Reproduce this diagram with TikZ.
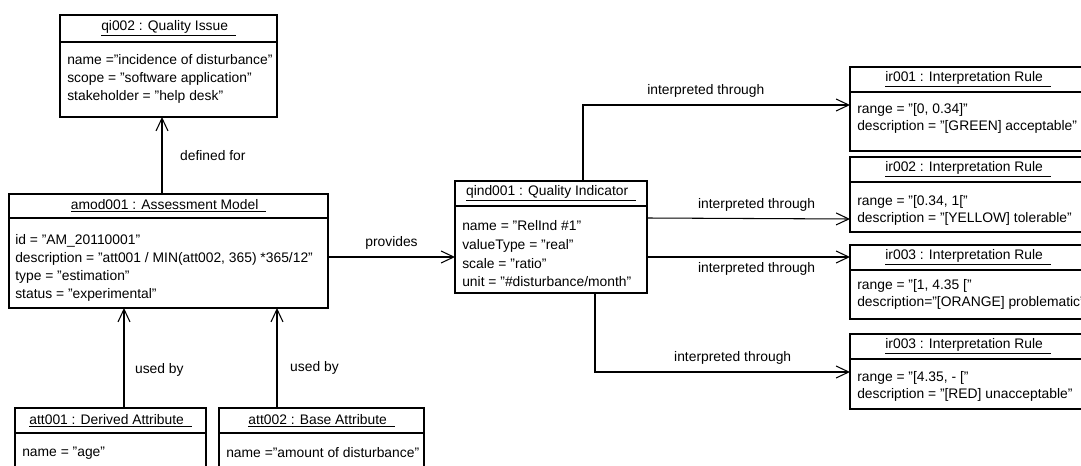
\documentclass[tikz,border=0pt]{standalone}
\usepackage{fontspec}
\setmainfont{Liberation Sans}
\usepackage{tikz}
\usetikzlibrary{
    arrows.meta,
    positioning,
    calc,
    fit
}
\newcommand{\objfont}{\fontsize{9.85}{12.75}\selectfont}
\newcommand{\rulefont}{\fontsize{9.85}{11.9}\selectfont}
\tikzstyle{objbox} = [
    rectangle,
    draw=black,
    line width=0.75pt,
    inner sep=0pt,
    outer sep=0pt
]
\tikzstyle{objname} = [
    inner sep=0pt,
    font=\objfont
]
\tikzstyle{attrs} = [
    anchor=north west,
    align=left,
    inner sep=0pt,
    font=\objfont
]
\tikzstyle{assoc} = [
    -{Straight Barb[length=9pt, width=8.5pt]},
    line width=0.75pt,
    draw=black
]
\tikzstyle{lbl} = [
    inner sep=0pt,
    font=\objfont
]

\begin{document}
\begin{tikzpicture}[x=0.025cm, y=-0.025cm]
        \clip (0,0) rectangle (1081,466);

        \node[objbox, fit={(60,15) (277,117)}] (qi) {};
        \node[objbox, fit={(60,15) (277,42)}] (qi-head) {};
        \node[objname] (qi-name) at (qi-head.center) {\underline{qi002 : Quality Issue\ \ }};
        \node[attrs] (qi-attr) at ($(qi-head.south west)+(7,12)$) {name ="incidence of disturbance"\\ scope = "software application"\\ stakeholder = "help desk"};

        \node[objbox, fit={(9,194) (328,308)}] (amod) {};
        \node[objbox, fit={(9,194) (328,218)}] (amod-head) {};
        \node[objname] (amod-name) at (amod-head.center) {\underline{amod001 : Assessment Model\ \ }};
        \node[attrs] (amod-attr) at ($(amod-head.south west)+(6,16)$) {id = "AM\_20110001"\\ description = "att001 / MIN(att002, 365) *365/12"\\ type = "estimation"\\ status = "experimental"};

        \node[objbox, fit={(15,408) (206,480)}] (att001) {};
        \node[objbox, fit={(15,408) (206,433)}] (att001-head) {};
        \node[objname] (att001-name) at (att001-head.center) {\underline{att001 : Derived Attribute\ \ }};
        \node[attrs] (att001-attr) at ($(att001-head.south west)+(7,14)$) {name = "age"};

        \node[objbox, fit={(219,408) (424,480)}] (att002) {};
        \node[objbox, fit={(219,408) (424,433)}] (att002-head) {};
        \node[objname] (att002-name) at (att002-head.center) {\underline{att002 : Base Attribute\ \ }};
        \node[attrs] (att002-attr) at ($(att002-head.south west)+(7,14)$) {name ="amount of disturbance"};

        \node[objbox, fit={(455,181) (647,293)}] (qind) {};
        \node[objbox, fit={(455,181) (647,206)}] (qind-head) {};
        \node[objname] (qind-name) at (qind-head.center) {\underline{qind001 : Quality Indicator\ \ }};
        \node[attrs, font=\fontsize{9.85}{13.4}\selectfont] (qind-attr) at ($(qind-head.south west)+(7,14)$) {name = "RelInd \#1"\\ valueType = "real"\\ scale = "ratio"\\ unit = "\#disturbance/month"};

        \node[objbox, fit={(850,67) (1086,151)}] (ir001) {};
        \node[objbox, fit={(850,67) (1086,92)}] (ir001-head) {};
        \node[objname] (ir001-name) at (ir001-head.center) {\underline{ir001 : Interpretation Rule\ \ }};
        \node[attrs, font=\rulefont] (ir001-attr) at ($(ir001-head.south west)+(7,11)$) {range = "[0, 0.34]"\\ description = "[GREEN] acceptable"};

        \node[objbox, fit={(850,157) (1086,232)}] (ir002) {};
        \node[objbox, fit={(850,157) (1086,182)}] (ir002-head) {};
        \node[objname] (ir002-name) at (ir002-head.center) {\underline{ir002 : Interpretation Rule\ \ }};
        \node[attrs, font=\rulefont] (ir002-attr) at ($(ir002-head.south west)+(7,13)$) {range = "[0.34, 1["\\ description = "[YELLOW] tolerable"};

        \node[objbox, fit={(850,245) (1086,319)}] (ir003a) {};
        \node[objbox, fit={(850,245) (1086,270)}] (ir003a-head) {};
        \node[objname] (ir003a-name) at (ir003a-head.center) {\underline{ir003 : Interpretation Rule\ \ }};
        \node[attrs, font=\rulefont] (ir003a-attr) at ($(ir003a-head.south west)+(7,9)$) {range = "[1, 4.35 ["\\ description="[ORANGE] problematic"};

        \node[objbox, fit={(850,334) (1086,409)}] (ir003b) {};
        \node[objbox, fit={(850,334) (1086,359)}] (ir003b-head) {};
        \node[objname] (ir003b-name) at (ir003b-head.center) {\underline{ir003 : Interpretation Rule\ \ }};
        \node[attrs, font=\rulefont] (ir003b-attr) at ($(ir003b-head.south west)+(7,12)$) {range = "[4.35, - ["\\ description = "[RED] unacceptable"};

        \draw[assoc] ($(amod.north west)+(153,0)$) -- node[lbl, right=12.5pt] {defined for} ($(qi.south west)+(102,0)$);
        \draw[assoc] ($(att001.north west)+(109,0)$) -- node[lbl, right=7.5pt, pos=0.38] {used by} ($(amod.south west)+(115,0)$);
        \draw[assoc] ($(att002.north west)+(58,0)$) -- node[lbl, right=9pt, pos=0.4] {used by} ($(amod.south west)+(268,0)$);
        \draw[assoc] ($(amod.north east)+(0,63)$) -- node[lbl, above=5pt] {provides} ($(qind.north west)+(0,76)$);
        \draw[assoc] ($(qind.north west)+(128,0)$) |- node[lbl, above=5pt, pos=0.73] {interpreted through} ($(ir001.north west)+(0,38)$);
        \draw[assoc] ($(qind.north east)+(0,37)$) -- node[lbl, above=5pt, pos=0.54] {interpreted through} ($(ir002.north west)+(0,62)$);
        \draw[assoc] ($(qind.north east)+(0,76)$) -- node[lbl, below=3.5pt, pos=0.54] {interpreted through} ($(ir003a.north west)+(0,12)$);
        \draw[assoc] ($(qind.south west)+(140,0)$) |- node[lbl, above=5pt, pos=0.77] {interpreted through} ($(ir003b.north west)+(0,38)$);
    \end{tikzpicture}
\end{document}
